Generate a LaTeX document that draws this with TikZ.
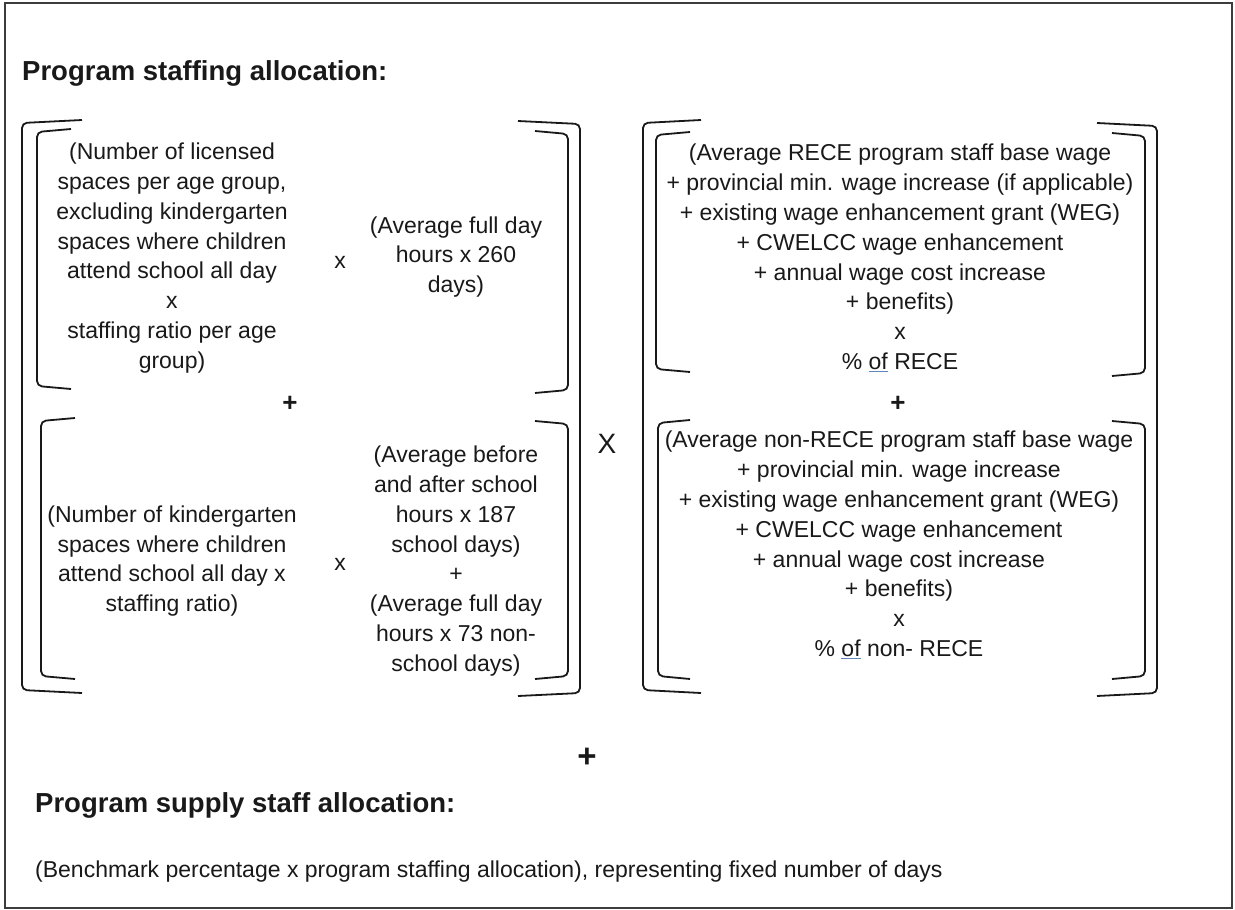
\documentclass[tikz,border=0pt]{standalone}
\usepackage{fontspec}
\setmainfont{Liberation Sans}
\definecolor{ulblue}{RGB}{95,135,185}
\definecolor{framegray}{RGB}{60,60,60}
\definecolor{ink}{RGB}{25,25,25}
\newcommand{\ulof}{{\color{ulblue}\underline{\color{ink}of}}}
% left bracket: x, top, bottom, arm-end x
\newcommand{\lbrk}[4]{\draw[brk] (#4,#2-3) -- (#1,#2) -- (#1,#3) -- (#4,#3+3);}
% right bracket: x, top, bottom, arm-end x
\newcommand{\rbrk}[4]{\draw[brk] (#4,#2-3) -- (#1,#2) -- (#1,#3) -- (#4,#3+3);}
\tikzset{
  brk/.style={line width=1.8pt, draw=ink, rounded corners=5pt},
  txt/.style={font=\fontsize{23}{29.8}\selectfont, align=center, inner sep=0pt, text=ink},
  opsign/.style={font=\fontsize{28}{32}\selectfont, inner sep=0pt, text=ink},
  plussign/.style={font=\fontsize{26}{30}\selectfont\bfseries, inner sep=0pt, text=ink},
  bigplus/.style={font=\fontsize{33}{36}\selectfont\bfseries, inner sep=0pt, text=ink},
  head/.style={font=\fontsize{27.5}{32}\selectfont\bfseries, inner sep=0pt, anchor=base west, text=ink},
  plain/.style={font=\fontsize{23}{29.8}\selectfont, inner sep=0pt, anchor=base west, text=ink},
}
\begin{document}
\begin{tikzpicture}[x=1pt,y=-1pt]
\useasboundingbox (0,0) rectangle (1235,910);
\fill[white] (0,0) rectangle (1235,910);
\draw[framegray, line width=2pt] (5,3) rectangle (1232,908);

\node[head] (t1) at (22,80) {Program staffing allocation:};

% ---------- left group ----------
\lbrk{22}{123}{690}{82}
\rbrk{580}{124}{693}{518}
\lbrk{37}{132}{386}{71}
\rbrk{568}{134}{390}{535}
\lbrk{41}{421}{676}{75}
\rbrk{568}{424}{676}{535}

\node[txt] (a1) at (172,258) {(Number of licensed\\spaces per age group,\\excluding kindergarten\\spaces where children\\attend school all day\\x\\staffing ratio per age\\group)};
\node[txt] (ax1) at (340,262) {x};
\node[txt] (b1) at (456,257) {(Average full day\\hours x 260\\days)};
\node[plussign] (p1) at (290,404) {+};
\node[txt] (a2) at (172,561) {(Number of kindergarten\\spaces where children\\attend school all day x\\staffing ratio)};
\node[txt] (ax2) at (340,564) {x};
\node[txt] (b2) at (456,561) {(Average before\\and after school\\hours x 187\\school days)\\+\\(Average full day\\hours x 73 non-\\school days)};

\node[opsign] (bigx) at (607,444) {X};

% ---------- right group ----------
\lbrk{643}{123}{690}{701}
\rbrk{1157}{126}{693}{1097}
\lbrk{656}{135}{369}{690}
\rbrk{1145}{136}{373}{1112}
\lbrk{658}{423}{676}{690}
\rbrk{1145}{424}{676}{1112}

\node[txt] (c1) at (900,258) {(Average RECE program staff base wage\\+ provincial min. wage increase (if applicable)\\+ existing wage enhancement grant (WEG)\\+ CWELCC wage enhancement\\+ annual wage cost increase\\+ benefits)\\x\\\% \ulof{} RECE};
\node[plussign] (p2) at (898,404) {+};
\node[txt] (c2) at (899,545) {(Average non-RECE program staff base wage\\+ provincial min. wage increase\\+ existing wage enhancement grant (WEG)\\+ CWELCC wage enhancement\\+ annual wage cost increase\\+ benefits)\\x\\\% \ulof{} non- RECE};

% ---------- bottom ----------
\node[bigplus] (p3) at (587,758) {+};
\node[head] (t2) at (35,812) {Program supply staff allocation:};
\node[plain] (s1) at (35,877) {(Benchmark percentage x program staffing allocation), representing fixed number of days};
\end{tikzpicture}
\end{document}
